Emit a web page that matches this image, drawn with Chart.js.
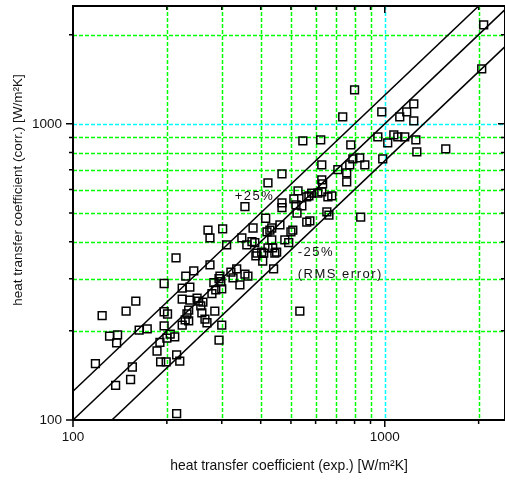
<!DOCTYPE html>
<html>
<head>
<meta charset="utf-8">
<script src="https://cdn.jsdelivr.net/npm/chart.js@4"></script>
<style>
  html, body { margin: 0; padding: 0; background: #fff; overflow: hidden; }
  canvas { display: block; }
</style>
</head>
<body>
<canvas id="chart" width="505" height="482"></canvas>
<script>
// Measured vs. correlated heat transfer coefficient [W/m2K]
const expValues = [
  118, 124, 131, 139, 138, 137, 148, 153, 155, 159,
  163, 173, 186, 190, 191, 196, 196, 201, 196, 199,
  200, 205, 212, 214, 215, 220, 215, 224, 224, 224,
  229, 230, 232, 235, 235, 237, 237, 244, 250, 253,
  257, 259, 261, 265, 269, 271, 275, 275, 279, 283,
  287, 285, 294, 294, 296, 298, 300, 300, 302, 311,
  321, 326, 335, 343, 348, 356, 356, 361, 364, 375,
  383, 378, 386, 389, 403, 406, 409, 415, 419, 422,
  422, 428, 434, 434, 437, 440, 444, 450, 461, 468,
  468, 468, 478, 492, 500, 507, 511, 519, 523, 527,
  534, 542, 546, 562, 562, 571, 575, 583, 610, 623,
  628, 628, 628, 632, 657, 676, 652, 662, 707, 733,
  755, 755, 772, 778, 790, 800, 831, 837, 863, 950,
  978, 985, 1022, 1069, 1101, 1117, 1159, 1176, 1239, 1239,
  1258, 1267, 1569, 2046, 2076
];
const corrValues = [
  155, 225, 192, 194, 182, 131, 233, 137, 151, 252,
  201, 203, 171, 183, 157, 289, 232, 228, 208, 157,
  189, 195, 191, 353, 166, 158, 105, 279, 209, 256,
  218, 306, 228, 216, 235, 281, 254, 319, 258, 252,
  243, 230, 250, 219, 213, 438, 412, 334, 267, 291,
  275, 233, 300, 186, 306, 293, 209, 277, 442, 390,
  316, 302, 324, 286, 412, 525, 311, 390, 306, 400,
  397, 445, 358, 366, 369, 344, 366, 480, 432, 632,
  381, 438, 406, 445, 381, 324, 366, 369, 456, 678,
  541, 521, 406, 397, 432, 438, 558, 533, 500, 594,
  233, 529, 876, 466, 567, 571, 470, 584, 584, 883,
  589, 727, 647, 627, 567, 571, 504, 492, 700, 1056,
  683, 637, 727, 849, 762, 1303, 768, 484, 727, 904,
  1098, 762, 863, 918, 904, 1056, 904, 1098, 1168, 1023,
  883, 804, 823, 1534, 2160
];

// reference lines: y = x and +/-25 %
const refX = [100, 2500];
const upperY = [125, 3125];
const equalY = [100, 2500];
const lowerY = [75, 1875];

// axes
const xMin = 100, xMax = 2430;
const yMin = 100, yMax = 2500;
const majorTicks = [100, 1000];
const minorTicks = [200, 300, 400, 500, 600, 700, 800, 900, 2000];

const xTitle = 'heat transfer coefficient (exp.) [W/m\u00B2K]';
const yTitle = 'heat transfer coefficient (corr.) [W/m\u00B2K]';

// text notes on the plot
const noteTexts = ['+25%', '-25%', '(RMS error)'];
const noteX = [330, 526, 526];
const noteY = [571, 369, 311];

const FONT = "'Liberation Sans', Arial, sans-serif";
const TEXT_COLOR = '#111';

function near(v, list) {
  return list.some(t => Math.abs(v - t) < t * 1e-6);
}

function tickLabel(v) {
  if (near(v, majorTicks)) return String(Math.round(v));
  return '';
}

function toPoints(xs, ys) {
  return xs.map((v, i) => ({ x: v, y: ys[i] }));
}

function zeroPadding(s) {
  s.paddingTop = 0;
  s.paddingBottom = 0;
  s.paddingLeft = 0;
  s.paddingRight = 0;
}

// dashed grid lines (green, cyan at 1000)
const gridPlugin = {
  id: 'dashGrid',
  beforeDatasetsDraw(chart) {
    const { ctx, chartArea: a, scales: { x, y } } = chart;
    ctx.save();
    ctx.lineWidth = 1.5;
    ctx.setLineDash([4, 2]);
    minorTicks.concat([1000]).forEach(v => {
      ctx.strokeStyle = v === 1000 ? '#00ffff' : '#00ff00';
      ctx.beginPath();
      const px = Math.round(x.getPixelForValue(v)) + 0.5;
      if (px < a.right) {
        ctx.moveTo(px, a.top);
        ctx.lineTo(px, a.bottom);
      }
      const py = Math.round(y.getPixelForValue(v)) + 0.5;
      ctx.moveTo(a.left, py);
      ctx.lineTo(a.right, py);
      ctx.stroke();
    });
    ctx.restore();
  }
};

// frame, tick marks, y title
const framePlugin = {
  id: 'frame',
  afterDraw(chart) {
    const { ctx, chartArea: a, scales: { x, y } } = chart;
    ctx.save();
    ctx.strokeStyle = '#000';
    ctx.lineWidth = 2;
    ctx.strokeRect(a.left, a.top, a.right - a.left, a.bottom - a.top);

    ctx.lineWidth = 1.5;
    ctx.beginPath();
    majorTicks.concat(minorTicks).forEach(v => {
      const len = majorTicks.includes(v) ? 7 : 4;
      const px = x.getPixelForValue(v);
      ctx.moveTo(px, a.bottom); ctx.lineTo(px, a.bottom + len);
      ctx.moveTo(px, a.top); ctx.lineTo(px, a.top + len);
      const py = y.getPixelForValue(v);
      ctx.moveTo(a.left, py); ctx.lineTo(a.left - len, py);
      ctx.moveTo(a.right, py); ctx.lineTo(a.right - len, py);
    });
    ctx.stroke();

    ctx.fillStyle = TEXT_COLOR;
    ctx.font = '13.5px ' + FONT;
    ctx.textAlign = 'center';
    ctx.textBaseline = 'middle';
    ctx.translate(18, 190);
    ctx.rotate(-Math.PI / 2);
    ctx.fillText(yTitle, 0, 0);
    ctx.restore();
  }
};

const notesPlugin = {
  id: 'notes',
  afterDatasetsDraw(chart) {
    const { ctx, scales: { x, y } } = chart;
    ctx.save();
    ctx.fillStyle = TEXT_COLOR;
    ctx.font = '13px ' + FONT;
    ctx.letterSpacing = '1.5px';
    ctx.textAlign = 'left';
    ctx.textBaseline = 'middle';
    noteTexts.forEach((t, i) => {
      ctx.fillText(t, x.getPixelForValue(noteX[i]), y.getPixelForValue(noteY[i]));
    });
    ctx.restore();
  }
};

const lineStyle = {
  showLine: true,
  borderColor: '#000',
  borderWidth: 1.5,
  pointRadius: 0,
  fill: false,
  tension: 0,
  order: 2
};

new Chart(document.getElementById('chart'), {
  type: 'scatter',
  data: {
    datasets: [
      {
        label: 'data',
        data: toPoints(expValues, corrValues),
        pointStyle: 'rect',
        pointRadius: 5.5,
        borderWidth: 1.5,
        borderColor: '#000',
        backgroundColor: 'rgba(0,0,0,0)',
        order: 1
      },
      { label: '+25%', data: toPoints(refX, upperY), ...lineStyle },
      { label: 'y=x', data: toPoints(refX, equalY), ...lineStyle },
      { label: '-25%', data: toPoints(refX, lowerY), ...lineStyle }
    ]
  },
  options: {
    responsive: false,
    animation: false,
    events: [],
    layout: { autoPadding: false, padding: { top: 6, left: 0, right: 0, bottom: 0 } },
    plugins: {
      legend: { display: false },
      tooltip: { enabled: false }
    },
    scales: {
      x: {
        type: 'logarithmic',
        min: xMin,
        max: xMax,
        border: { display: false },
        grid: { display: false, drawTicks: false },
        ticks: {
          autoSkip: false,
          maxRotation: 0,
          padding: 9,
          color: TEXT_COLOR,
          font: { family: FONT, size: 13.5 },
          callback: tickLabel
        },
        title: {
          display: true,
          text: xTitle,
          color: TEXT_COLOR,
          font: { family: FONT, size: 13.9 },
          padding: { top: 0, bottom: 7 }
        },
        afterFit: s => { s.height = 62; zeroPadding(s); }
      },
      y: {
        type: 'logarithmic',
        min: yMin,
        max: yMax,
        border: { display: false },
        grid: { display: false, drawTicks: false },
        ticks: {
          autoSkip: false,
          padding: 11,
          color: TEXT_COLOR,
          font: { family: FONT, size: 13.5 },
          callback: tickLabel
        },
        afterFit: s => { s.width = 73; zeroPadding(s); }
      }
    }
  },
  plugins: [gridPlugin, framePlugin, notesPlugin]
});
</script>
</body>
</html>
